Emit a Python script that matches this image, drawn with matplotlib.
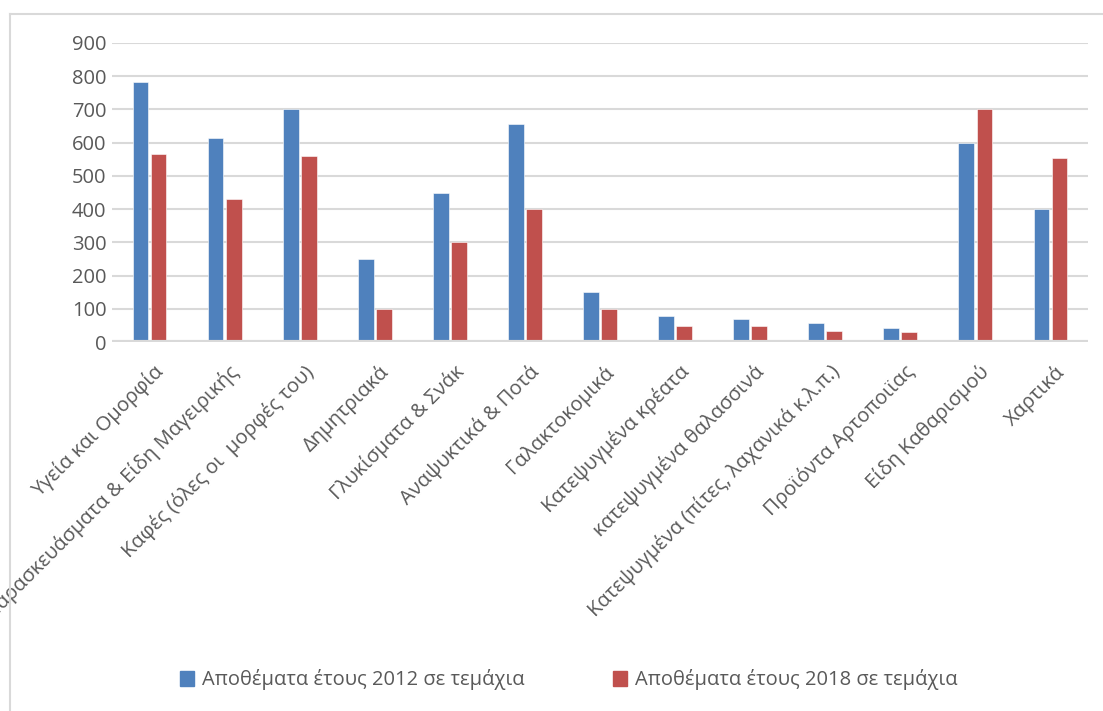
import numpy as np
import matplotlib.pyplot as plt
from matplotlib.lines import Line2D

plt.rcParams['font.family'] = ['Open Sans', 'Noto Sans', 'DejaVu Sans']

categories = [
    'Υγεία και Ομορφία',
    'Παρασκευάσματα & Είδη Μαγειρικής',
    'Καφές (όλες οι  μορφές του)',
    'Δημητριακά',
    'Γλυκίσματα & Σνάκ',
    'Αναψυκτικά & Ποτά',
    'Γαλακτοκομικά',
    'Κατεψυγμένα κρέατα',
    'κατεψυγμένα θαλασσινά',
    'Κατεψυγμένα (πίτες, λαχανικά κ.λ.π.)',
    'Προϊόντα Αρτοποιϊας',
    'Είδη Καθαρισμού',
    'Χαρτικά',
]
stock_2012 = [783, 615, 700, 250, 450, 655, 150, 78, 68, 58, 43, 600, 400]
stock_2018 = [565, 430, 560, 100, 300, 400, 100, 48, 48, 33, 30, 700, 555]
series_names = ['Αποθέματα έτους 2012 σε τεμάχια', 'Αποθέματα έτους 2018 σε τεμάχια']

blue = '#4F81BD'
red = '#C0504D'
txt = '#595959'

W, H = 1103, 711
fig = plt.figure(figsize=(W / 100, H / 100), dpi=100)
ax = fig.add_axes([112 / W, 1 - 342 / H, (1088 - 112) / W, (342 - 43) / H])

x = np.arange(len(categories))
w = 0.21
ax.bar(x - 0.12, stock_2012, w, color=blue, edgecolor='white', linewidth=0.4, zorder=3)
ax.bar(x + 0.12, stock_2018, w, color=red, edgecolor='white', linewidth=0.4, zorder=3)

ax.set_xlim(-0.5, len(categories) - 0.5)
ax.set_ylim(0, 900)
ax.set_yticks(range(0, 901, 100))
ax.yaxis.grid(True, color='#D9D9D9', linewidth=1.5, zorder=0)
ax.axhline(0, color='#D9D9D9', linewidth=3, zorder=4)
for s in ax.spines.values():
    s.set_visible(False)
ax.tick_params(axis='both', length=0, labelsize=14.5, colors=txt)
ax.tick_params(axis='y', pad=4)

ax.set_xticks(x + 0.05)
ax.set_xticklabels(categories, rotation=45, ha='right', va='top',
                   rotation_mode='anchor', fontsize=14.5, color=txt)
ax.tick_params(axis='x', pad=14)

# outer chart frame (left and top edges)
fig.add_artist(Line2D([10 / W, 10 / W], [0, 1 - 14 / H], transform=fig.transFigure,
                      color='#D9D9D9', linewidth=1.5))
fig.add_artist(Line2D([10 / W, 1], [1 - 14 / H, 1 - 14 / H], transform=fig.transFigure,
                      color='#D9D9D9', linewidth=1.5))

handles = [plt.Rectangle((0, 0), 1, 1, color=blue), plt.Rectangle((0, 0), 1, 1, color=red)]
leg = fig.legend(handles, series_names, loc='center', bbox_to_anchor=(569 / W, 1 - 680 / H),
                 ncol=2, frameon=False, fontsize=14.5, handlelength=0.7, handleheight=0.7,
                 handletextpad=0.4, columnspacing=4.4)
for t in leg.get_texts():
    t.set_color(txt)

fig.savefig('out.png', dpi=100)
